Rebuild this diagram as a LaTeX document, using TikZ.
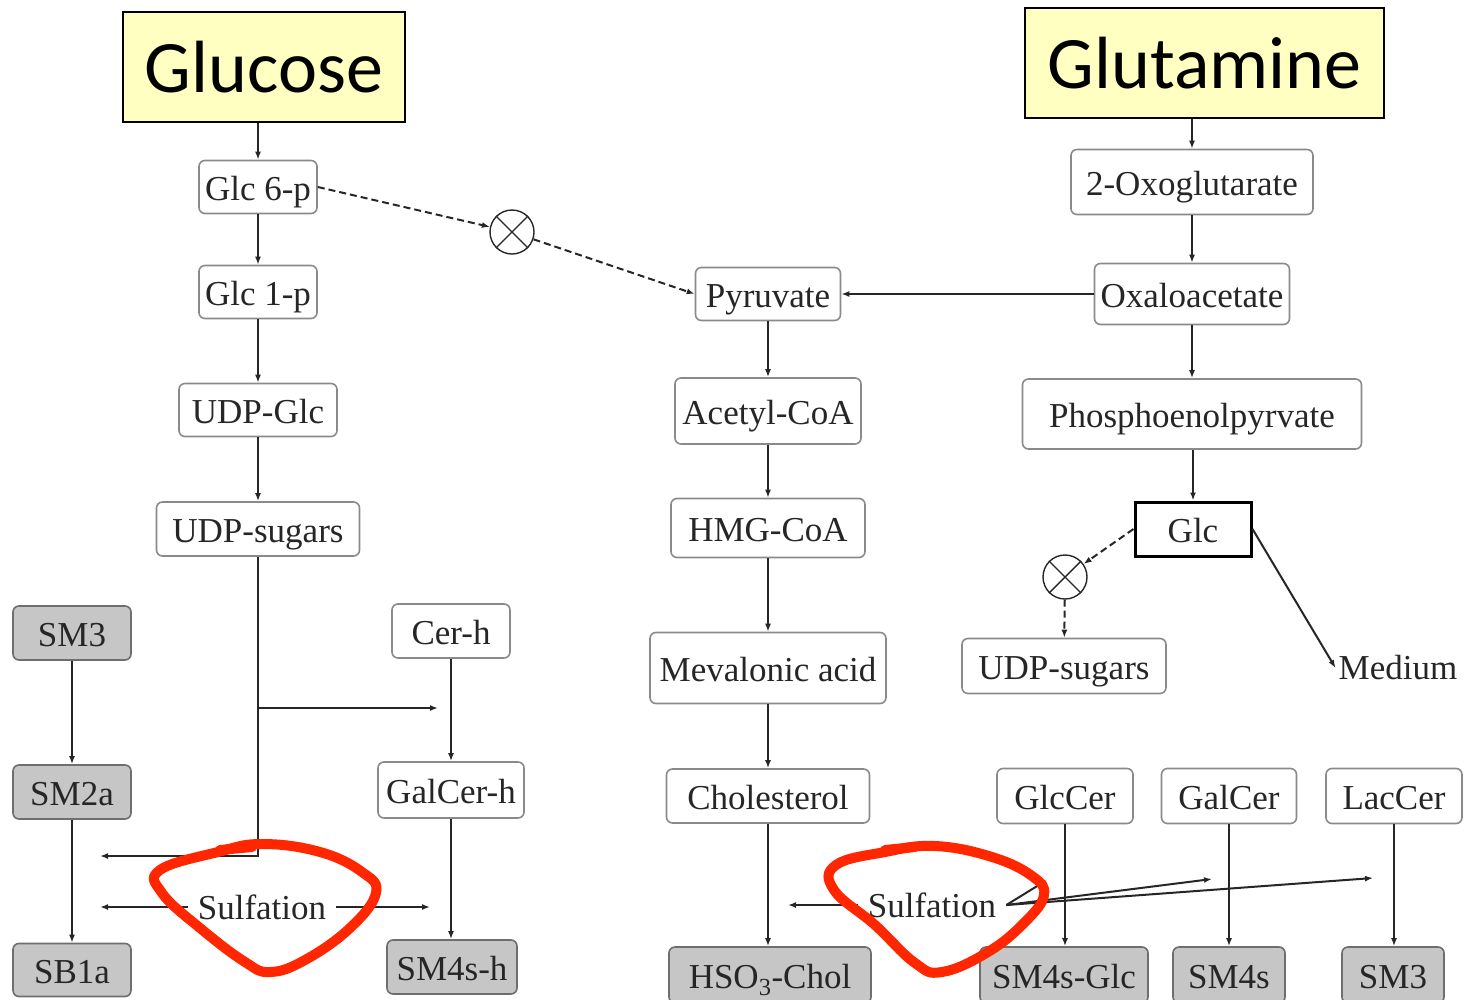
\documentclass[tikz,border=0pt]{standalone}
\usepackage{fontspec}
\setmainfont{Liberation Serif}
\newfontfamily\calib{Carlito}
\usetikzlibrary{arrows.meta}
\definecolor{boxgray}{HTML}{8A8A8A}
\definecolor{boxfill}{HTML}{C6C6C6}
\definecolor{gborder}{HTML}{6E6E6E}
\definecolor{topyellow}{HTML}{FFFFC2}
\definecolor{txt}{HTML}{262626}
\definecolor{lin}{HTML}{262626}
\definecolor{redc}{HTML}{FF2600}
\begin{document}
\begin{tikzpicture}[x=1pt,y=-1pt,
 box/.style={draw=boxgray, line width=1.6pt, rounded corners=6pt, fill=white, inner sep=0pt, font=\fontsize{35}{40}\selectfont, text=txt, text height=26pt, text depth=0pt},
 gbox/.style={box, fill=boxfill, draw=gborder},
 topbox/.style={draw=black, line width=1.8pt, fill=topyellow, inner sep=0pt, font=\calib\fontsize{74}{80}\selectfont},
 arr/.style={-{Latex[length=8pt,width=6pt]}, line width=2pt, draw=lin},
 dsh/.style={arr, dash pattern=on 7pt off 4pt},
 xc/.style={circle, draw=lin, line width=1.4pt, minimum size=44pt, inner sep=0pt},
 lbl/.style={font=\fontsize{35}{40}\selectfont, text=txt, inner sep=0pt},
 redink/.style={draw=redc, line width=10pt, line cap=round, line join=round}
]
\useasboundingbox (0,0) rectangle (1465,999);
% top boxes
\node[topbox, minimum width=282pt, minimum height=110pt] (glu) at (264,67) {Glucose};
\node[topbox, minimum width=359pt, minimum height=110pt] (gln) at (1204.5,63) {Glutamine};
% left column
\node[box, minimum width=118pt, minimum height=53pt] (g6p) at (258,187) {Glc 6-p};
\node[box, minimum width=118pt, minimum height=53pt] (g1p) at (258,292) {Glc 1-p};
\node[box, minimum width=158pt, minimum height=53pt] (udpg) at (258,410) {UDP-Glc};
\node[box, minimum width=203pt, minimum height=54pt] (udps) at (258,529) {UDP-sugars};
\node[xc] (c1) at (512,232) {};
\draw[lin, line width=1.4pt] (c1.45) -- (c1.225) (c1.135) -- (c1.315);
% middle column
\node[box, minimum width=145pt, minimum height=53pt] (pyr) at (768,294) {Pyruvate};
\node[box, minimum width=186pt, minimum height=66pt] (aco) at (768,411) {Acetyl-CoA};
\node[box, minimum width=194pt, minimum height=59pt] (hmg) at (768,528) {HMG-CoA};
\node[box, minimum width=236pt, minimum height=71pt] (mev) at (768,668) {Mevalonic acid};
\node[box, minimum width=203pt, minimum height=54pt] (chol) at (768,796) {Cholesterol};
\node[gbox, minimum width=202pt, minimum height=56pt] (hso) at (770,975) {HSO\textsubscript{3}-Chol};
% right column
\node[box, minimum width=242pt, minimum height=65pt] (oxg) at (1192,182) {2-Oxoglutarate};
\node[box, minimum width=195pt, minimum height=61pt] (oxa) at (1192,294) {Oxaloacetate};
\node[box, minimum width=339pt, minimum height=70pt] (pep) at (1192,414) {Phosphoenolpyrvate};
\node[draw=black, line width=3pt, fill=white, inner sep=0pt, minimum width=116pt, minimum height=54pt, font=\fontsize{35}{40}\selectfont, text=txt, text height=26pt, text depth=0pt] (glc) at (1193,529) {Glc};
\node[xc] (c2) at (1065,577) {};
\draw[lin, line width=1.4pt] (c2.45) -- (c2.225) (c2.135) -- (c2.315);
\node[box, minimum width=204pt, minimum height=55pt] (udps2) at (1064,666) {UDP-sugars};
\node[lbl, inner sep=3pt] (med) at (1398,668) {Medium};
% bottom right
\node[box, minimum width=136pt, minimum height=55pt] (glccer) at (1065,796) {GlcCer};
\node[box, minimum width=135pt, minimum height=55pt] (galcer) at (1229,796) {GalCer};
\node[box, minimum width=136pt, minimum height=55pt] (laccer) at (1394,796) {LacCer};
\node[gbox, minimum width=168pt, minimum height=56pt] (sm4sglc) at (1064,975) {SM4s-Glc};
\node[gbox, minimum width=112pt, minimum height=56pt] (sm4s) at (1229,975) {SM4s};
\node[gbox, minimum width=102pt, minimum height=56pt] (sm3r) at (1393,975) {SM3};
% bottom left
\node[gbox, minimum width=118pt, minimum height=54pt] (sm3l) at (72,633) {SM3};
\node[gbox, minimum width=118pt, minimum height=54pt] (sm2a) at (72,792) {SM2a};
\node[gbox, minimum width=118pt, minimum height=53pt] (sb1a) at (72,970) {SB1a};
\node[box, minimum width=118pt, minimum height=54pt] (cerh) at (451,631) {Cer-h};
\node[box, minimum width=146pt, minimum height=56pt] (galcerh) at (451,790) {GalCer-h};
\node[gbox, minimum width=130pt, minimum height=54pt] (sm4sh) at (452,967) {SM4s-h};
% sulfation labels
\node[lbl, inner xsep=10pt] (sul1) at (262,907) {Sulfation};
\node[lbl, inner xsep=10pt] (sul2) at (932,905) {Sulfation};
% coordinates
\coordinate (b1) at (258,708);
\coordinate (b1e) at (438,708);
\coordinate (s1) at (100,856);
\coordinate (sl1) at (100,907);
\coordinate (sr1) at (430,907);
\coordinate (sl2) at (788,905);
\coordinate (t1) at (1047,880);
\coordinate (t2) at (1212,879);
\coordinate (t3) at (1373,878);
% connectors
\draw[arr] (glu.south -| g6p.north) -- (g6p.north);
\draw[arr] (g6p) -- (g1p);
\draw[arr] (g1p) -- (udpg);
\draw[arr] (udpg) -- (udps);
\draw[arr] (udps.south) |- (s1);
\draw[arr] (b1) -- (b1e);
\draw[dsh] (g6p.east) -- (c1);
\draw[dsh] (c1) -- (pyr.west);
\draw[arr] (oxa.west) -- (pyr.east);
\draw[arr] (gln.south -| oxg.north) -- (oxg.north);
\draw[arr] (oxg) -- (oxa);
\draw[arr] (oxa) -- (pep);
\draw[arr] (pep.south -| glc.north) -- (glc.north);
\draw[dsh] (glc.west) -- (c2);
\draw[dsh] (c2) -- (udps2);
\draw[arr] (glc.east) -- (med.west);
\draw[arr] (pyr) -- (aco);
\draw[arr] (aco) -- (hmg);
\draw[arr] (hmg) -- (mev);
\draw[arr] (mev) -- (chol);
\draw[arr] (chol.south) -- (chol.south |- hso.north);
\draw[arr] (glccer.south) -- (glccer.south |- sm4sglc.north);
\draw[arr] (galcer) -- (sm4s);
\draw[arr] (laccer.south) -- (laccer.south |- sm3r.north);
\draw[arr] (sm3l) -- (sm2a);
\draw[arr] (sm2a) -- (sb1a);
\draw[arr] (cerh) -- (galcerh);
\draw[arr] (galcerh.south) -- (galcerh.south |- sm4sh.north);
\draw[arr] (sul1.west) -- (sl1);
\draw[arr] (sul1.east) -- (sr1);
\draw[arr] (sul2.west) -- (sl2);
\draw[arr] (sul2.east) -- (t1);
\draw[arr] (sul2.east) -- (t2);
\draw[arr] (sul2.east) -- (t3);
% red hand-drawn loops
\draw[redink] plot[smooth cycle, tension=0.7] coordinates {(218,852) (262,844) (320,852) (362,872) (376,893) (350,928) (305,960) (270,972) (245,962) (200,928) (162,893) (160,870)};
\draw[redink] (220,850) -- (252,847);
\draw[redink] plot[smooth cycle, tension=0.7] coordinates {(885,852) (935,846) (992,857) (1032,876) (1044,895) (1025,922) (988,952) (942,972) (915,963) (875,925) (834,890) (836,865)};
\draw[redink] (885,850) -- (915,847);
\end{tikzpicture}
\end{document}
